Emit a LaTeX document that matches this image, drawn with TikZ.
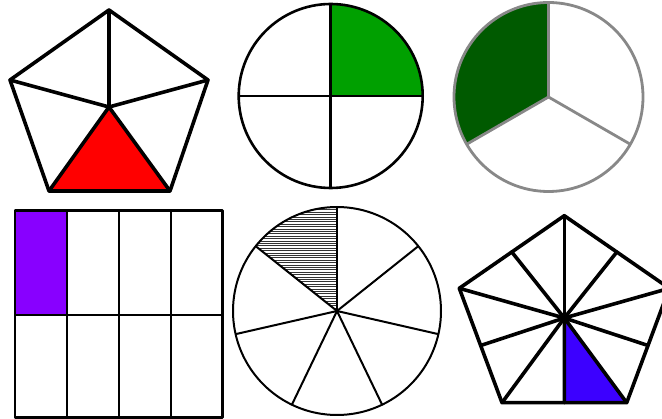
\documentclass[tikz,border=0pt]{standalone}
\usetikzlibrary{calc}
\definecolor{qgreen}{RGB}{0,160,0}
\definecolor{dgreen}{RGB}{0,90,0}
\definecolor{pgray}{RGB}{136,136,136}
\definecolor{vpurple}{RGB}{136,0,255}
\definecolor{pblue}{RGB}{60,0,255}
\tikzset{
  thick3/.style={line width=3.6pt, line join=round, line cap=round},
  thick2/.style={line width=2.6pt, line join=round},
}
\begin{document}
\begin{tikzpicture}[x=1pt,y=-1pt]
\fill[white] (0,0) rectangle (662,419);
\useasboundingbox (0,0) rectangle (662,419);
\clip (0,0) rectangle (662,419);

% ---- Pentagon 1 (top left)
\coordinate (A1) at (109,10);
\coordinate (B1) at (208,80);
\coordinate (C1) at (170,191);
\coordinate (D1) at (49,191);
\coordinate (E1) at (10,80);
\coordinate (O1) at (109,107);
\fill[red] (O1) -- (C1) -- (D1) -- cycle;
\draw[thick3] (A1) -- (B1) -- (C1) -- (D1) -- (E1) -- cycle;
\draw[thick3] (O1) -- (A1) (O1) -- (B1) (O1) -- (C1) (O1) -- (D1) (O1) -- (E1);

% ---- Circle quarters (top middle)
\coordinate (O2) at (330.7,96);
\fill[qgreen] (O2) -- ++(92,0) arc[start angle=0,end angle=-90,radius=92] -- cycle;
\draw[thick2] (O2) circle[radius=92];
\draw[thick2] ($(O2)+(-92,0)$) -- ($(O2)+(92,0)$);
\draw[thick2] ($(O2)+(0,-92)$) -- ($(O2)+(0,92)$);

% ---- Circle thirds (top right)
\coordinate (O3) at (548.5,97);
\fill[dgreen] (O3) -- ++(0,-94.5) arc[start angle=-90,end angle=-210,radius=94.5] -- cycle;
\draw[pgray, line width=2.8pt] (O3) circle[radius=94.5];
\draw[pgray, line width=2.8pt, line join=round] ($(O3)+(0,-94.5)$) -- (O3) -- ($(O3)+(150:94.5)$);
\draw[pgray, line width=2.8pt] (O3) -- ($(O3)+(30:94.5)$);

% ---- Grid 2x4 (bottom left)
\fill[vpurple] (15,210.7) rectangle (67,315);
\draw[thick2] (15,210.7) rectangle (222.7,417.3);
\draw[thick2] (15,315) -- (222.7,315);
\draw[thick2] (67,210.7) -- (67,417.3);
\draw[thick2] (119,210.7) -- (119,417.3);
\draw[thick2] (171,210.7) -- (171,417.3);

% ---- Circle sevenths (bottom middle)
\coordinate (O4) at (337,311);
\begin{scope}
  \clip (O4) -- ++(0,-104) arc[start angle=-90,end angle=-141.43,radius=104] -- cycle;
  \foreach \k in {0,...,45} {
    \draw[line width=0.9pt, black!80] (225,205+2.4*\k) -- (345,205+2.4*\k);
  }
\end{scope}
\draw[line width=2pt] (O4) circle[radius=104];
\foreach \a in {90,38.571,-12.857,-64.286,-115.714,-167.143,141.429} {
  \draw[line width=2pt] (O4) -- ++(-\a:104);
}
\fill (O4) circle[radius=2];

% ---- Pentagon tenths (bottom right)
\coordinate (A6) at (564.3,215.7);
\coordinate (B6) at (669.3,288.3);
\coordinate (C6) at (626.7,402.7);
\coordinate (D6) at (502,402.7);
\coordinate (E6) at (459.3,288.3);
\coordinate (O6) at (564.3,318);
\fill[pblue] (O6) -- ($(C6)!0.5!(D6)$) -- (C6) -- cycle;
\draw[thick3] (A6) -- (B6) -- (C6) -- (D6) -- (E6) -- cycle;
\foreach \p in {A6,B6,C6,D6,E6} { \draw[thick3] (O6) -- (\p); }
\draw[thick3] (O6) -- ($(A6)!0.5!(B6)$);
\draw[thick3] (O6) -- ($(B6)!0.5!(C6)$);
\draw[thick3] (O6) -- ($(C6)!0.5!(D6)$);
\draw[thick3] (O6) -- ($(D6)!0.5!(E6)$);
\draw[thick3] (O6) -- ($(E6)!0.5!(A6)$);
\end{tikzpicture}
\end{document}
